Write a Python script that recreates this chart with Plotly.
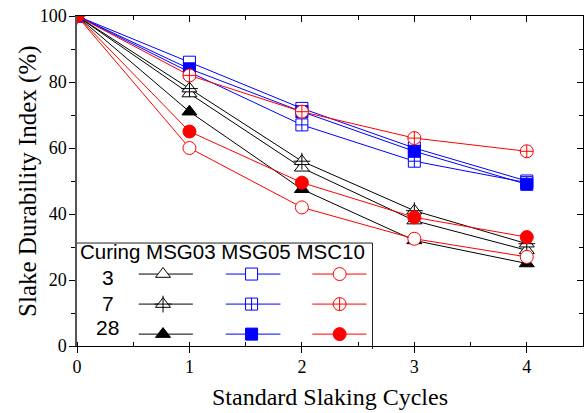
import plotly.graph_objects as go

cycles = [0, 1, 2, 3, 4]

# MSG03 (black triangles)
msg03_3 = [100, 76.5, 54, 38, 29]
msg03_7 = [100, 78, 56, 41, 31]
msg03_28 = [100, 71, 47.5, 32, 25]
# MSG05 (blue squares)
msg05_3 = [100, 86, 72, 60, 50]
msg05_7 = [100, 83, 67, 56, 49.5]
msg05_28 = [100, 84, 71, 59, 49]
# MSC10 (red circles)
msc10_3 = [100, 60, 42, 32.5, 27]
msc10_7 = [100, 82, 71, 63, 59]
msc10_28 = [100, 65, 49.5, 39, 33]

x_ticks = [0, 1, 2, 3, 4]
y_ticks = [0, 20, 40, 60, 80, 100]
legend_header = "Curing MSG03 MSG05 MSC10"
curing_days = ["3", "7", "28"]

BLACK = "#000000"
BLUE = "#0000FF"
RED = "#FF0000"

# (values, colour, symbol, size, filled, overlay symbol)
series = [
    (msg03_3, BLACK, "triangle-up", 13, False, None),
    (msg03_7, BLACK, "triangle-up", 13, False, "cross-thin-open"),
    (msg03_28, BLACK, "triangle-up", 13, True, None),
    (msg05_3, BLUE, "square", 12, False, None),
    (msg05_7, BLUE, "square-cross", 12, False, None),
    (msg05_28, BLUE, "square", 12, True, None),
    (msc10_3, RED, "circle", 13, False, None),
    (msc10_7, RED, "circle-cross", 13, False, None),
    (msc10_28, RED, "circle", 13, True, None),
]


def mk(sym, size, col, filled):
    return dict(symbol=sym, size=size, color=col if filled else "white",
                line=dict(color=col, width=1))


fig = go.Figure()
for vals, col, sym, size, filled, extra in series:
    fig.add_trace(go.Scatter(
        x=cycles, y=vals, mode="lines+markers",
        line=dict(color=col, width=1), marker=mk(sym, size, col, filled),
        showlegend=False))
    if extra:
        fig.add_trace(go.Scatter(
            x=cycles, y=vals, mode="markers",
            marker=dict(symbol=extra, size=12, color=col, line=dict(color=col, width=1)),
            showlegend=False))

# ---- custom legend table (positions in plot-area fractions) ----
col_x = [(0.122, 0.170, 0.229), (0.294, 0.345, 0.402), (0.465, 0.519, 0.572)]
row_y = [0.218, 0.127, 0.036]
label_y = [0.209, 0.130, 0.055]
for ci, grp in enumerate([series[0:3], series[3:6], series[6:9]]):
    x0, xm, x1 = col_x[ci]
    for ri, (vals, col, sym, size, filled, extra) in enumerate(grp):
        y = row_y[ri]
        fig.add_trace(go.Scatter(
            x=[x0, xm, x1], y=[y, y, y], mode="lines", xaxis="x2", yaxis="y2",
            line=dict(color=col, width=1), showlegend=False, hoverinfo="skip"))
        fig.add_trace(go.Scatter(
            x=[xm], y=[y], mode="markers", xaxis="x2", yaxis="y2",
            marker=mk(sym, size, col, filled), showlegend=False, hoverinfo="skip"))
        if extra:
            fig.add_trace(go.Scatter(
                x=[xm], y=[y], mode="markers", xaxis="x2", yaxis="y2",
                marker=dict(symbol=extra, size=12, color=col, line=dict(color=col, width=1)),
                showlegend=False, hoverinfo="skip"))

annotations = [dict(text=legend_header, x=0.002, y=0.285, xref="paper", yref="paper",
                    xanchor="left", yanchor="middle", showarrow=False,
                    font=dict(family="Liberation Sans", size=20.5, color="black"))]
for t, y in zip(curing_days, label_y):
    annotations.append(dict(text=t, x=0.061, y=y, xref="paper", yref="paper",
                            xanchor="center", yanchor="middle", showarrow=False,
                            font=dict(family="Liberation Sans", size=21, color="black")))
annotations.append(dict(text="Slake Durability Index (%)", textangle=-90,
                        x=-0.097, y=0.5, xref="paper", yref="paper",
                        xanchor="center", yanchor="middle", showarrow=False,
                        font=dict(family="Liberation Serif", size=25, color="black")))

shapes = [
    dict(type="line", xref="paper", yref="paper", x0=0, x1=0.584, y0=0.312, y1=0.312,
         line=dict(color="#222", width=1)),
    dict(type="line", xref="paper", yref="paper", x0=0.584, x1=0.584, y0=0.312, y1=-0.009,
         line=dict(color="#222", width=1)),
]

tickfont = dict(family="Liberation Serif", size=18, color="black")
fig.update_layout(
    width=584, height=413,
    margin=dict(l=77, r=1, t=16, b=67),
    paper_bgcolor="white", plot_bgcolor="white",
    annotations=annotations, shapes=shapes,
    xaxis=dict(range=[0, 4.5], tickvals=x_ticks, ticks="outside", ticklen=6,
               tickcolor="black", showline=True, linecolor="black", linewidth=1,
               showgrid=False, zeroline=False, tickfont=tickfont, ticklabelstandoff=-2,
               minor=dict(dtick=0.5, ticks="inside", ticklen=4, tickcolor="black"),
               title=dict(text="Standard Slaking Cycles",
                          font=dict(family="Liberation Serif", size=24, color="black"),
                          standoff=12)),
    xaxis3=dict(overlaying="x", side="top", range=[0, 4.5], tickvals=x_ticks,
                ticks="inside", ticklen=6, tickcolor="black", showticklabels=False,
                showline=True, linecolor="black", linewidth=1,
                showgrid=False, zeroline=False,
                minor=dict(dtick=0.5, ticks="inside", ticklen=4, tickcolor="black")),
    yaxis=dict(range=[0, 100], tickvals=y_ticks, ticks="outside", ticklen=6,
               tickcolor="black", showline=True, linecolor="#555", linewidth=1.5,
               showgrid=False, zeroline=False, tickfont=tickfont, ticklabelstandoff=-1,
               minor=dict(dtick=10, ticks="outside", ticklen=4, tickcolor="black")),
    xaxis2=dict(overlaying="x", range=[0, 1], visible=False),
    yaxis2=dict(overlaying="y", range=[0, 1], visible=False),
    yaxis3=dict(overlaying="y", side="right", range=[0, 100], tickvals=y_ticks,
                ticks="inside", ticklen=6, tickcolor="black", showticklabels=False,
                showgrid=False, zeroline=False, showline=True, linecolor="black",
                minor=dict(dtick=10, ticks="inside", ticklen=4, tickcolor="black")),
)
fig.add_trace(go.Scatter(x=[None], y=[None], yaxis="y3", showlegend=False, hoverinfo="skip"))
fig.add_trace(go.Scatter(x=[None], y=[None], xaxis="x3", showlegend=False, hoverinfo="skip"))

fig.write_html("out.html")
